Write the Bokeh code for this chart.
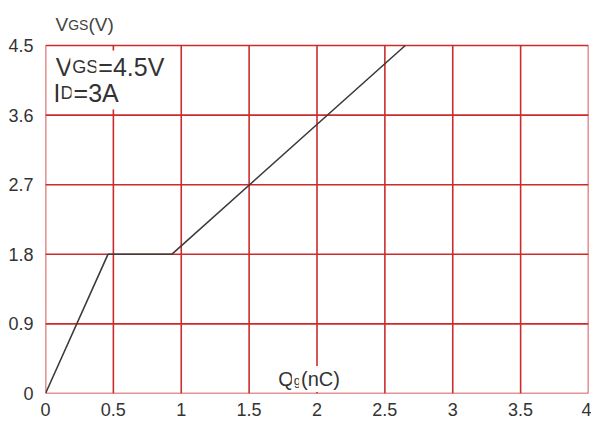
from bokeh.plotting import figure
from bokeh.models import Label, FixedTicker, Range1d
from bokeh.embed import file_html
from bokeh.resources import INLINE

# ---- data ----
qg_nc = [0.0, 0.46, 0.93, 2.65]
vgs_v = [0.0, 1.8, 1.8, 4.5]
x_ticks = [0, 0.5, 1, 1.5, 2, 2.5, 3, 3.5, 4]
x_tick_labels = ["0", "0.5", "1", "1.5", "2", "2.5", "3", "3.5", "4"]
y_ticks = [0, 0.9, 1.8, 2.7, 3.6, 4.5]
y_tick_labels = ["0", "0.9", "1.8", "2.7", "3.6", "4.5"]

RED = "#cc2b2b"
FONT = "Liberation Sans"
TXT = "#333333"

X0, X1 = x_ticks[0], x_ticks[-1]
Y0, Y1 = y_ticks[0], y_ticks[-1]
# frame spans whole canvas height above the x axis; plot box occupies the lower part
FRAME_H = 393
BOX_TOP_PX = 45
Y_TOP = Y1 * FRAME_H / (FRAME_H - BOX_TOP_PX)

p = figure(width=591, height=423, x_range=Range1d(X0, X1), y_range=Range1d(Y0, Y_TOP),
           output_backend="svg", toolbar_location=None,
           min_border_left=45, min_border_right=3, min_border_top=0, min_border_bottom=30)
p.background_fill_color = "white"
p.border_fill_color = "white"
p.outline_line_color = None
p.xgrid.visible = False
p.ygrid.visible = False

for ax, ticks, labels in ((p.xaxis[0], x_ticks, x_tick_labels), (p.yaxis[0], y_ticks, y_tick_labels)):
    ax.ticker = FixedTicker(ticks=ticks)
    ax.major_label_overrides = {t: l for t, l in zip(ticks, labels)}
    ax.axis_line_color = None
    ax.major_tick_line_color = None
    ax.minor_tick_line_color = None
    ax.major_label_text_font = FONT
    ax.major_label_text_font_size = "18px"
    ax.major_label_text_color = TXT
p.yaxis.major_label_standoff = 6
p.xaxis.major_label_standoff = 3

# grid lines limited to the plot box
p.segment(x0=x_ticks, y0=[Y0] * len(x_ticks), x1=x_ticks, y1=[Y1] * len(x_ticks),
          line_color=RED, line_width=1.6)
p.segment(x0=[X0] * len(y_ticks), y0=y_ticks, x1=[X1] * len(y_ticks), y1=y_ticks,
          line_color=RED, line_width=1.6)

p.line(qg_nc, vgs_v, line_color="#3c3c3c", line_width=1.6)

W = {"V": .667, "G": .778, "S": .667, "=": .584, "4": .556, ".": .278, "5": .556,
     "I": .278, "D": .722, "3": .556, "A": .667, "(": .333, ")": .333, "Q": .778,
     "g": .556, "n": .556, "C": .722}


def multi_text(pieces, x, y, color=TXT, bg=None, lift=0):
    off = 0.0
    for text, size, dy in pieces:
        lab = Label(x=x, y=y, x_offset=off, y_offset=dy + lift, text=text,
                    text_font=FONT, text_font_size=f"{size}px", text_color=color,
                    text_baseline="alphabetic", text_align="left")
        if bg:
            lab.background_fill_color = bg
            lab.background_fill_alpha = 1.0
            lab.padding = 2
        p.add_layout(lab)
        off += sum(W.get(c, 0.55) for c in text) * size


# annotations inside the plot box
multi_text([("V", 25, 0), ("GS", 18, 0), ("=4.5V", 25, 0)], 0.06, 4.125, bg="white", lift=8)
multi_text([("I", 25, 0), ("D", 18, 0), ("=3A", 25, 0)], 0.045, 3.79, bg="white", lift=7)
multi_text([("Q", 20, 0), ("g", 13, -2), ("(nC)", 20, 0)], 1.70, 0.11, bg="white", lift=6)
# y-axis label above the plot box
multi_text([("V", 19, 0), ("GS", 14, 0), ("(V)", 19, 0)], 0.074, 4.69, color="#444444", lift=6)

open("out.html", "w").write(file_html(p, INLINE))
